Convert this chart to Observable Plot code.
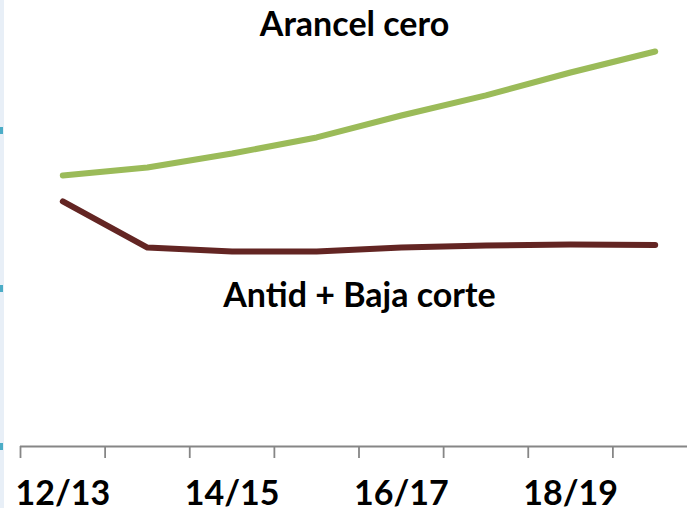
<!DOCTYPE html>
<html>
<head>
<meta charset="utf-8">
<script src="https://cdn.jsdelivr.net/npm/d3@7"></script>
<script src="https://cdn.jsdelivr.net/npm/@observablehq/plot@0.6"></script>
<style>
  html, body { margin: 0; padding: 0; background: #fff; }
  body { background: linear-gradient(to right, #e8eff7 0, #e8eff7 4px, #ffffff 4px); width: 687px; height: 508px; overflow: hidden; }
  #chart svg { display: block; background: transparent; }
</style>
</head>
<body>
<div id="chart"></div>
<script>
// Campaigns (one point per campaign)
const campaigns = ["12/13", "13/14", "14/15", "15/16", "16/17", "17/18", "18/19", "19/20"];
// Series values (arbitrary units)
const arancelCero = [171.5, 176.6, 185.4, 195.6, 209.5, 222.2, 236.7, 250.0];
const antidBajaCorte = [155.1, 125.9, 123.4, 123.4, 125.9, 127.2, 127.8, 127.5];
// Series names
const seriesNames = ["Arancel cero", "Antid + Baja corte"];
// Tick values
const xLabelTicks = [0, 2, 4, 6];
const xBoundaryTicks = [-0.5, 0.5, 1.5, 2.5, 3.5, 4.5, 5.5, 6.5];
const yTicks = [0, 100, 200];

const rows = [];
campaigns.forEach((c, i) => {
  rows.push({i, campaign: c, series: seriesNames[0], value: arancelCero[i]});
  rows.push({i, campaign: c, series: seriesNames[1], value: antidBajaCorte[i]});
});

const labels = [
  {name: seriesNames[0], x: 3.447, y: 266.4},
  {name: seriesNames[1], x: 3.506, y: 94.9}
];

const font = "Lato, 'Open Sans', sans-serif";

const chart = Plot.plot({
  width: 687,
  height: 508,
  marginLeft: 3,
  marginRight: 0,
  marginTop: 0,
  marginBottom: 62,
  style: {fontFamily: font, background: "transparent", overflow: "visible"},
  x: {domain: [-0.5, 7.5], range: [20, 697]},
  y: {domain: [0, 200], range: [446, 130]},
  color: {domain: seriesNames, range: ["#9BBB59", "#632523"]},
  marks: [
    Plot.axisY({ticks: yTicks, tickSize: 3, tickFormat: () => "", color: "#4BACC6", strokeWidth: 7, label: null}),
    Plot.axisX({ticks: xBoundaryTicks, tickSize: 12, tickFormat: () => "", color: "#868686", strokeWidth: 1.8, label: null}),
    Plot.axisX({ticks: xLabelTicks, tickSize: 0, tickPadding: 34, tickFormat: i => campaigns[i], color: "#000", fontSize: 34, fontWeight: "bold", label: null}),
    Plot.ruleY([0], {x1: -0.5, x2: 7.5, stroke: "#868686", strokeWidth: 2}),
    Plot.line(rows, {x: "i", y: "value", z: "series", stroke: "series", strokeWidth: 6, strokeLinecap: "round", strokeLinejoin: "round"}),
    Plot.text(labels, {x: "x", y: "y", text: "name", fontSize: 34, fontWeight: "bold", fill: "#000", textAnchor: "middle", lineAnchor: "middle"})
  ]
});
document.getElementById("chart").appendChild(chart);
</script>
</body>
</html>
